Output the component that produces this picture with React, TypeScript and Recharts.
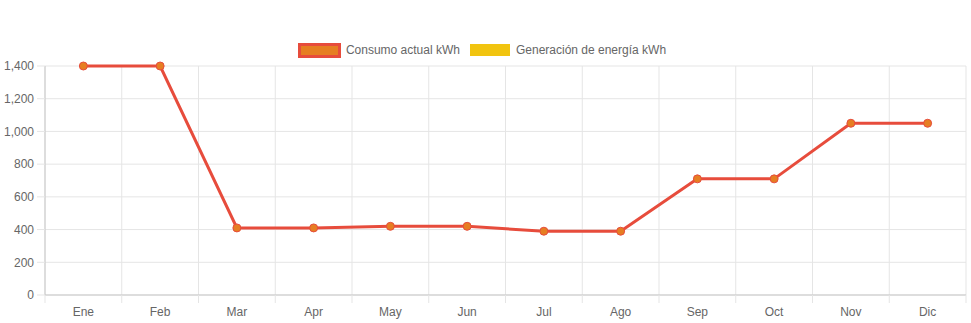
import React from 'react';
import { LineChart, Line, XAxis, YAxis, CartesianGrid, Legend } from 'recharts';

const months = ['Ene', 'Feb', 'Mar', 'Apr', 'May', 'Jun', 'Jul', 'Ago', 'Sep', 'Oct', 'Nov', 'Dic'];
const consumo = [1400, 1400, 410, 410, 420, 420, 390, 390, 710, 710, 1050, 1050];
const generacion: (number | null)[] = [null, null, null, null, null, null, null, null, null, null, null, null];
const yTicks = [0, 200, 400, 600, 800, 1000, 1200, 1400];

const data = months.map((m, i) => ({ month: m, consumo: consumo[i], generacion: generacion[i] }));

const FONT = 'Helvetica, Arial, "Liberation Sans", sans-serif';
const CHART_W = 971;
const CHART_H = 323;
const Y_AXIS_W = 45;
const MARGIN = { top: 50, right: 5, left: 0, bottom: 0 };
const PLOT_W = CHART_W - Y_AXIS_W - MARGIN.right - MARGIN.left;
const STEP = PLOT_W / months.length;
const X_TICK_SIZE = 8;
const X_TICK_MARGIN = 4;
const GRID_COLOR = '#e5e5e5';

const legendItems = [
  { label: 'Consumo actual kWh', fill: '#e67e22', stroke: '#e74c3c', strokeWidth: 3 },
  { label: 'Generación de energía kWh', fill: '#f1c40f', stroke: '#f1c40f', strokeWidth: 0 },
];

const LegendContent = () => (
  <div style={{ display: 'flex', justifyContent: 'center', alignItems: 'center', height: 16, fontFamily: FONT, fontSize: 12, color: '#666' }}>
    {legendItems.map((it, idx) => {
      const half = it.strokeWidth / 2;
      return (
        <div key={idx} style={{ display: 'flex', alignItems: 'center', marginRight: idx === 0 ? 10 : 0 }}>
          <div
            style={{
              width: 40 + it.strokeWidth,
              height: 12 + it.strokeWidth,
              boxSizing: 'border-box',
              background: it.fill,
              border: it.strokeWidth ? `${it.strokeWidth}px solid ${it.stroke}` : 'none',
              marginLeft: -half,
              marginRight: 6 - half,
            }}
          />
          <span>{it.label}</span>
        </div>
      );
    })}
  </div>
);

const XTick = (props: any) => {
  const { x, y, payload, index } = props;
  const top = y - X_TICK_SIZE - X_TICK_MARGIN;
  const lineL = x - STEP / 2;
  const lineR = x + STEP / 2;
  return (
    <g>
      <line x1={lineL} x2={lineL} y1={top} y2={top + X_TICK_SIZE} stroke={GRID_COLOR} />
      {index === months.length - 1 && (
        <line x1={lineR} x2={lineR} y1={top} y2={top + X_TICK_SIZE} stroke={GRID_COLOR} />
      )}
      <text x={x} y={y} dy="0.71em" textAnchor="middle" fill="#666" fontSize={12} fontFamily={FONT}>
        {payload.value}
      </text>
    </g>
  );
};

const verticalGen = ({ offset }: any) =>
  months.map((_, i) => offset.left + i * (offset.width / months.length)).concat(offset.left + offset.width);

export default function App() {
  return (
    <div style={{ position: 'absolute', left: 0, top: 0 }}>
      <LineChart width={CHART_W} height={CHART_H} data={data} margin={MARGIN}>
        <CartesianGrid stroke={GRID_COLOR} verticalCoordinatesGenerator={verticalGen} />
        <XAxis
          dataKey="month"
          padding={{ left: STEP / 2, right: STEP / 2 }}
          height={28}
          tickLine={false}
          tickSize={X_TICK_SIZE}
          tickMargin={X_TICK_MARGIN}
          axisLine={{ stroke: '#c8c8c8' }}
          tick={<XTick />}
          interval={0}
        />
        <YAxis
          width={Y_AXIS_W}
          domain={[0, 1400]}
          ticks={yTicks}
          tickFormatter={(v: number) => v.toLocaleString('en-US')}
          tickSize={8}
          tickMargin={3}
          tickLine={{ stroke: GRID_COLOR }}
          axisLine={{ stroke: '#c8c8c8' }}
          tick={{ fill: '#666', fontSize: 12, fontFamily: FONT }}
        />
        <Legend verticalAlign="top" content={<LegendContent />} wrapperStyle={{ top: 42 }} />
        <Line
          type="linear"
          dataKey="consumo"
          name="Consumo actual kWh"
          stroke="#e74c3c"
          strokeWidth={3}
          dot={{ r: 4, fill: '#e67e22', stroke: '#e74c3c', strokeWidth: 1 }}
          isAnimationActive={false}
        />
        <Line
          type="linear"
          dataKey="generacion"
          name="Generación de energía kWh"
          stroke="#f1c40f"
          strokeWidth={3}
          dot={false}
          isAnimationActive={false}
        />
      </LineChart>
    </div>
  );
}
